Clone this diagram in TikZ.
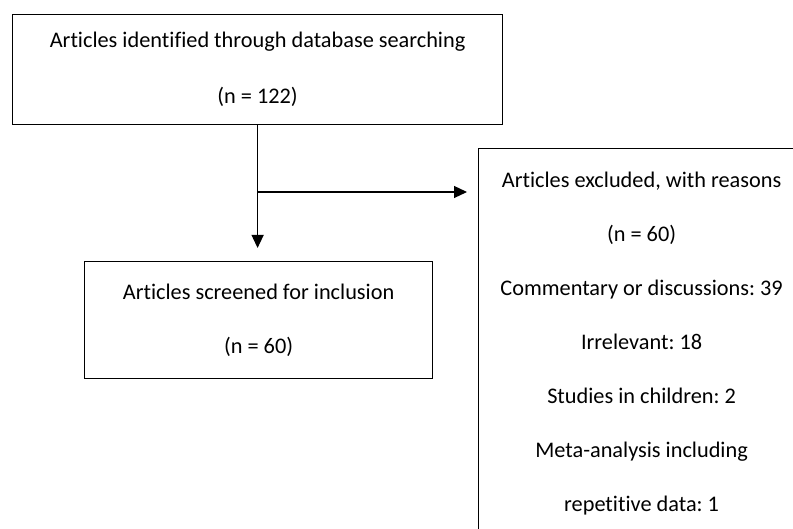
\documentclass[tikz,border=0pt]{standalone}
\usepackage{fontspec}
\setmainfont{Carlito}[Ligatures=NoCommon]
\usepackage{tikz}
\usetikzlibrary{arrows.meta}
\frenchspacing

\tikzset{
  flowbox/.style={draw,rectangle,line width=1.2pt,align=center,anchor=north west,inner sep=0pt,
    font=\fontsize{22.3}{54}\selectfont},
  flowarrow/.style={line width=1.2pt,-{Triangle[length=13pt,width=12pt]}}
}

\begin{document}
\begin{tikzpicture}[x=1pt,y=-1pt]
\useasboundingbox (0,0) rectangle (793,529);
\clip (0,0) rectangle (793,529);
% boxes
\node[flowbox,minimum width=490pt,minimum height=110pt] (ident) at (12,14) {
Articles identified through database searching\\[2pt]
(n = 122)
};
\node[flowbox,minimum width=348pt,minimum height=117pt] (screen) at (84,261) {
Articles screened for inclusion\\
(n = 60)
};
\node[flowbox,minimum width=326pt,minimum height=390pt] (excl) at (478,148) {
Articles excluded, with reasons\\
(n = 60)\\
Commentary or discussions: 39\\
Irrelevant: 18\\
Studies in children: 2\\
Meta-analysis including\\
repetitive data: 1
};
% arrows
\coordinate (branch) at (ident.south |- 0,192);
\draw[flowarrow,shorten >=13pt] (ident.south) -- (ident.south |- screen.north);
\draw[flowarrow,shorten >=11pt] (branch) -- (branch -| excl.west);
\end{tikzpicture}
\end{document}
